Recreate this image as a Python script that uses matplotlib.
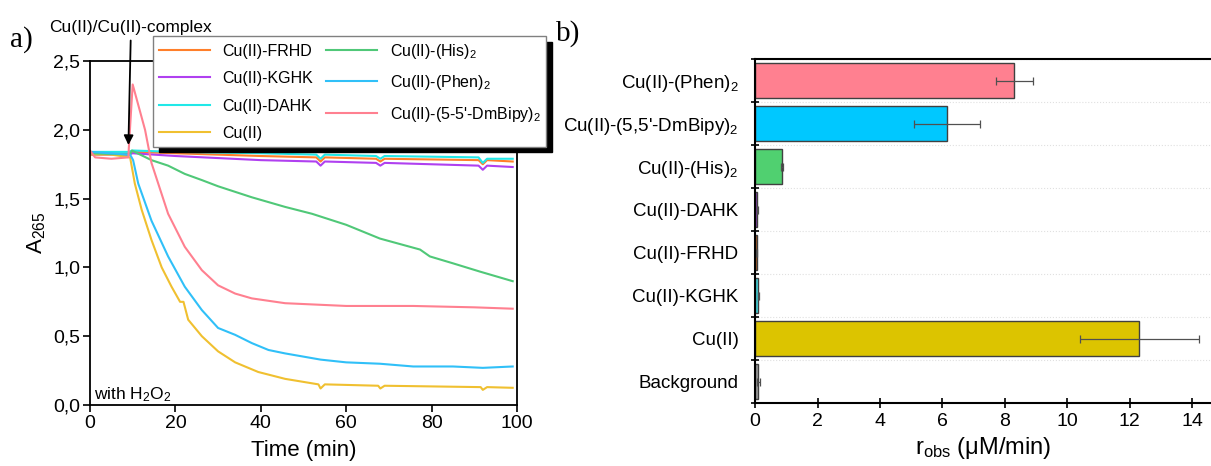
import matplotlib
matplotlib.use("Agg")
import matplotlib.pyplot as plt

plt.rcParams['font.family'] = ['Liberation Sans', 'DejaVu Sans']
plt.rcParams['mathtext.default'] = 'regular'

# --- panel a: absorbance at 265 nm vs time ---
t_frhd = [0, 9, 10, 20, 40, 53, 54, 55, 67, 68, 69, 91, 92, 93, 99]
a_frhd = [1.83, 1.83, 1.84, 1.83, 1.81, 1.80, 1.77, 1.80, 1.79, 1.77, 1.79, 1.78, 1.75, 1.78, 1.77]

t_kghk = [0, 9, 10, 20, 40, 53, 54, 55, 67, 68, 69, 91, 92, 93, 99]
a_kghk = [1.82, 1.82, 1.83, 1.81, 1.78, 1.77, 1.74, 1.77, 1.76, 1.74, 1.76, 1.74, 1.71, 1.74, 1.73]

t_dahk = [0, 9, 10, 20, 40, 53, 54, 55, 67, 68, 69, 91, 92, 93, 99]
a_dahk = [1.84, 1.84, 1.85, 1.84, 1.83, 1.82, 1.79, 1.82, 1.81, 1.79, 1.81, 1.80, 1.76, 1.79, 1.79]

t_cu = [0, 5, 9.4, 10.5, 12.1, 14.4, 16.8, 19.1, 21.1, 21.9, 23.0, 26.2, 30, 34, 39.4, 45.7,
        53.5, 54, 55, 67.5, 68, 69, 91.5, 92, 93, 99]
a_cu = [1.82, 1.82, 1.80, 1.61, 1.42, 1.20, 1.00, 0.86, 0.75, 0.75, 0.62, 0.50, 0.39, 0.31, 0.24, 0.19,
        0.15, 0.12, 0.15, 0.14, 0.12, 0.14, 0.13, 0.11, 0.13, 0.125]

t_his = [0, 9.4, 9.8, 14.4, 18.3, 22.2, 26.2, 30, 37.9, 45.7, 52, 60, 67.9, 77.3, 79.6, 85, 91.3, 99]
a_his = [1.83, 1.82, 1.85, 1.78, 1.74, 1.68, 1.635, 1.59, 1.51, 1.44, 1.39, 1.31, 1.21, 1.13, 1.08, 1.03, 0.97, 0.90]

t_phen = [0, 9.4, 10.1, 11.3, 14.4, 18.3, 22.2, 26.2, 30, 34, 37.9, 41.8, 45.7, 54, 60, 67.9, 75.7,
          85, 92, 99]
a_phen = [1.84, 1.82, 1.78, 1.61, 1.34, 1.08, 0.86, 0.69, 0.56, 0.51, 0.45, 0.40, 0.375, 0.33, 0.31,
          0.30, 0.28, 0.28, 0.27, 0.28]

t_bipy = [0, 1.2, 5, 9.0, 9.1, 10.0, 12.9, 14.4, 18.3, 22.2, 26.2, 30, 34, 37.9, 45.7, 60, 75.7, 90, 99]
a_bipy = [1.85, 1.80, 1.79, 1.80, 1.87, 2.33, 2.00, 1.76, 1.39, 1.15, 0.98, 0.87, 0.81, 0.775, 0.74,
          0.72, 0.72, 0.71, 0.70]

# --- panel b: observed rates ---
bar_names = ['Background', 'Cu(II)', 'Cu(II)-KGHK', 'Cu(II)-FRHD', 'Cu(II)-DAHK',
             'Cu(II)-(His)$_2$', "Cu(II)-(5,5'-DmBipy)$_2$", 'Cu(II)-(Phen)$_2$']
r_obs = [0.1, 12.3, 0.1, 0.05, 0.07, 0.87, 6.15, 8.3]
r_err = [0.05, 1.9, 0.02, 0.02, 0.02, 0.03, 1.05, 0.6]
bar_colors = ['#a0a0a0', '#dcc400', '#40d8e0', '#c06020', '#9040c0', '#50d070', '#00c8ff', '#ff8090']

fig = plt.figure(figsize=(12.11, 4.66), dpi=100)

ax = fig.add_axes([0.0743, 0.1309, 0.3526, 0.738])
ax.plot(t_frhd, a_frhd, color='#ff7f2a', lw=1.5, label='Cu(II)-FRHD')
ax.plot(t_kghk, a_kghk, color='#b040f0', lw=1.5, label='Cu(II)-KGHK')
ax.plot(t_dahk, a_dahk, color='#20e8e8', lw=1.5, label='Cu(II)-DAHK')
ax.plot(t_cu, a_cu, color='#f0c030', lw=1.5, label='Cu(II)')
ax.plot(t_his, a_his, color='#50c878', lw=1.5, label='Cu(II)-(His)$_2$')
ax.plot(t_phen, a_phen, color='#30c0f8', lw=1.5, label='Cu(II)-(Phen)$_2$')
ax.plot(t_bipy, a_bipy, color='#ff8090', lw=1.5, label="Cu(II)-(5-5'-DmBipy)$_2$")

ax.set_xlim(0, 100)
ax.set_ylim(0, 2.5)
ax.set_xticks([0, 20, 40, 60, 80, 100])
ax.set_yticks([0, 0.5, 1.0, 1.5, 2.0, 2.5])
ax.set_yticklabels(['0,0', '0,5', '1,0', '1,5', '2,0', '2,5'])
ax.tick_params(labelsize=14, direction='out', length=5, width=1.2, pad=2)
ax.set_xlabel('Time (min)', fontsize=16, labelpad=6)
ax.set_ylabel('A$_{265}$', fontsize=16)
for s in ax.spines.values():
    s.set_linewidth(1.3)

ax.text(1, 0.04, 'with H$_2$O$_2$', fontsize=12.5)
ax.annotate('Cu(II)/Cu(II)-complex', xy=(9.0, 1.89), xytext=(9.6, 2.69),
            ha='center', va='bottom', fontsize=12.5, annotation_clip=False,
            arrowprops=dict(arrowstyle='-|>', color='black', lw=1.3, mutation_scale=14,
                            shrinkA=2, shrinkB=0))

leg = ax.legend(ncol=2, loc='upper left', bbox_to_anchor=(0.1263, 0.9227),
                bbox_transform=fig.transFigure, fontsize=11.5, fancybox=False,
                shadow={'color': 'black', 'alpha': 1, 'ox': 4, 'oy': -4},
                edgecolor='#808080', framealpha=1, handlelength=3.2,
                columnspacing=0.8, borderpad=0.35, labelspacing=0.78,
                borderaxespad=0)
leg.get_frame().set_linewidth(1.0)

fig.text(0.008, 0.9, 'a)', fontsize=21, family='Liberation Serif')
fig.text(0.459, 0.912, 'b)', fontsize=21, family='Liberation Serif')

# panel b
bx = fig.add_axes([0.6235, 0.1352, 0.3765, 0.738])
pos = list(range(len(bar_names)))
bx.barh(pos, r_obs, xerr=r_err, height=0.8, color=bar_colors,
        edgecolor='#404040', linewidth=1,
        error_kw=dict(ecolor='#505050', elinewidth=0.9, capsize=3, capthick=0.9))
bx.set_ylim(-0.5, len(bar_names) - 0.5)
bx.set_xlim(0, 14.6)
bx.set_xticks([0, 2, 4, 6, 8, 10, 12, 14])
bx.set_yticks([p - 0.5 for p in pos] + [len(bar_names) - 0.5])
bx.set_yticklabels([])
bx.set_yticks(pos, minor=True)
bx.set_yticklabels(bar_names, minor=True, fontsize=13.5)
bx.tick_params(axis='y', which='minor', length=0, pad=12)
bx.tick_params(axis='y', which='major', direction='inout', length=6, width=1.2)
bx.tick_params(axis='x', direction='inout', length=7, width=1.2, labelsize=14)
bx.grid(axis='y', which='major', color='#e0e0e0', linestyle=':', lw=0.8)
bx.set_axisbelow(True)
bx.spines['right'].set_visible(False)
for s in ['left', 'bottom', 'top']:
    bx.spines[s].set_linewidth(1.5)
bx.set_xlabel('r$_{obs}$ (\u03bcM/min)', fontsize=17, labelpad=4)

fig.savefig('out.png', dpi=100)
